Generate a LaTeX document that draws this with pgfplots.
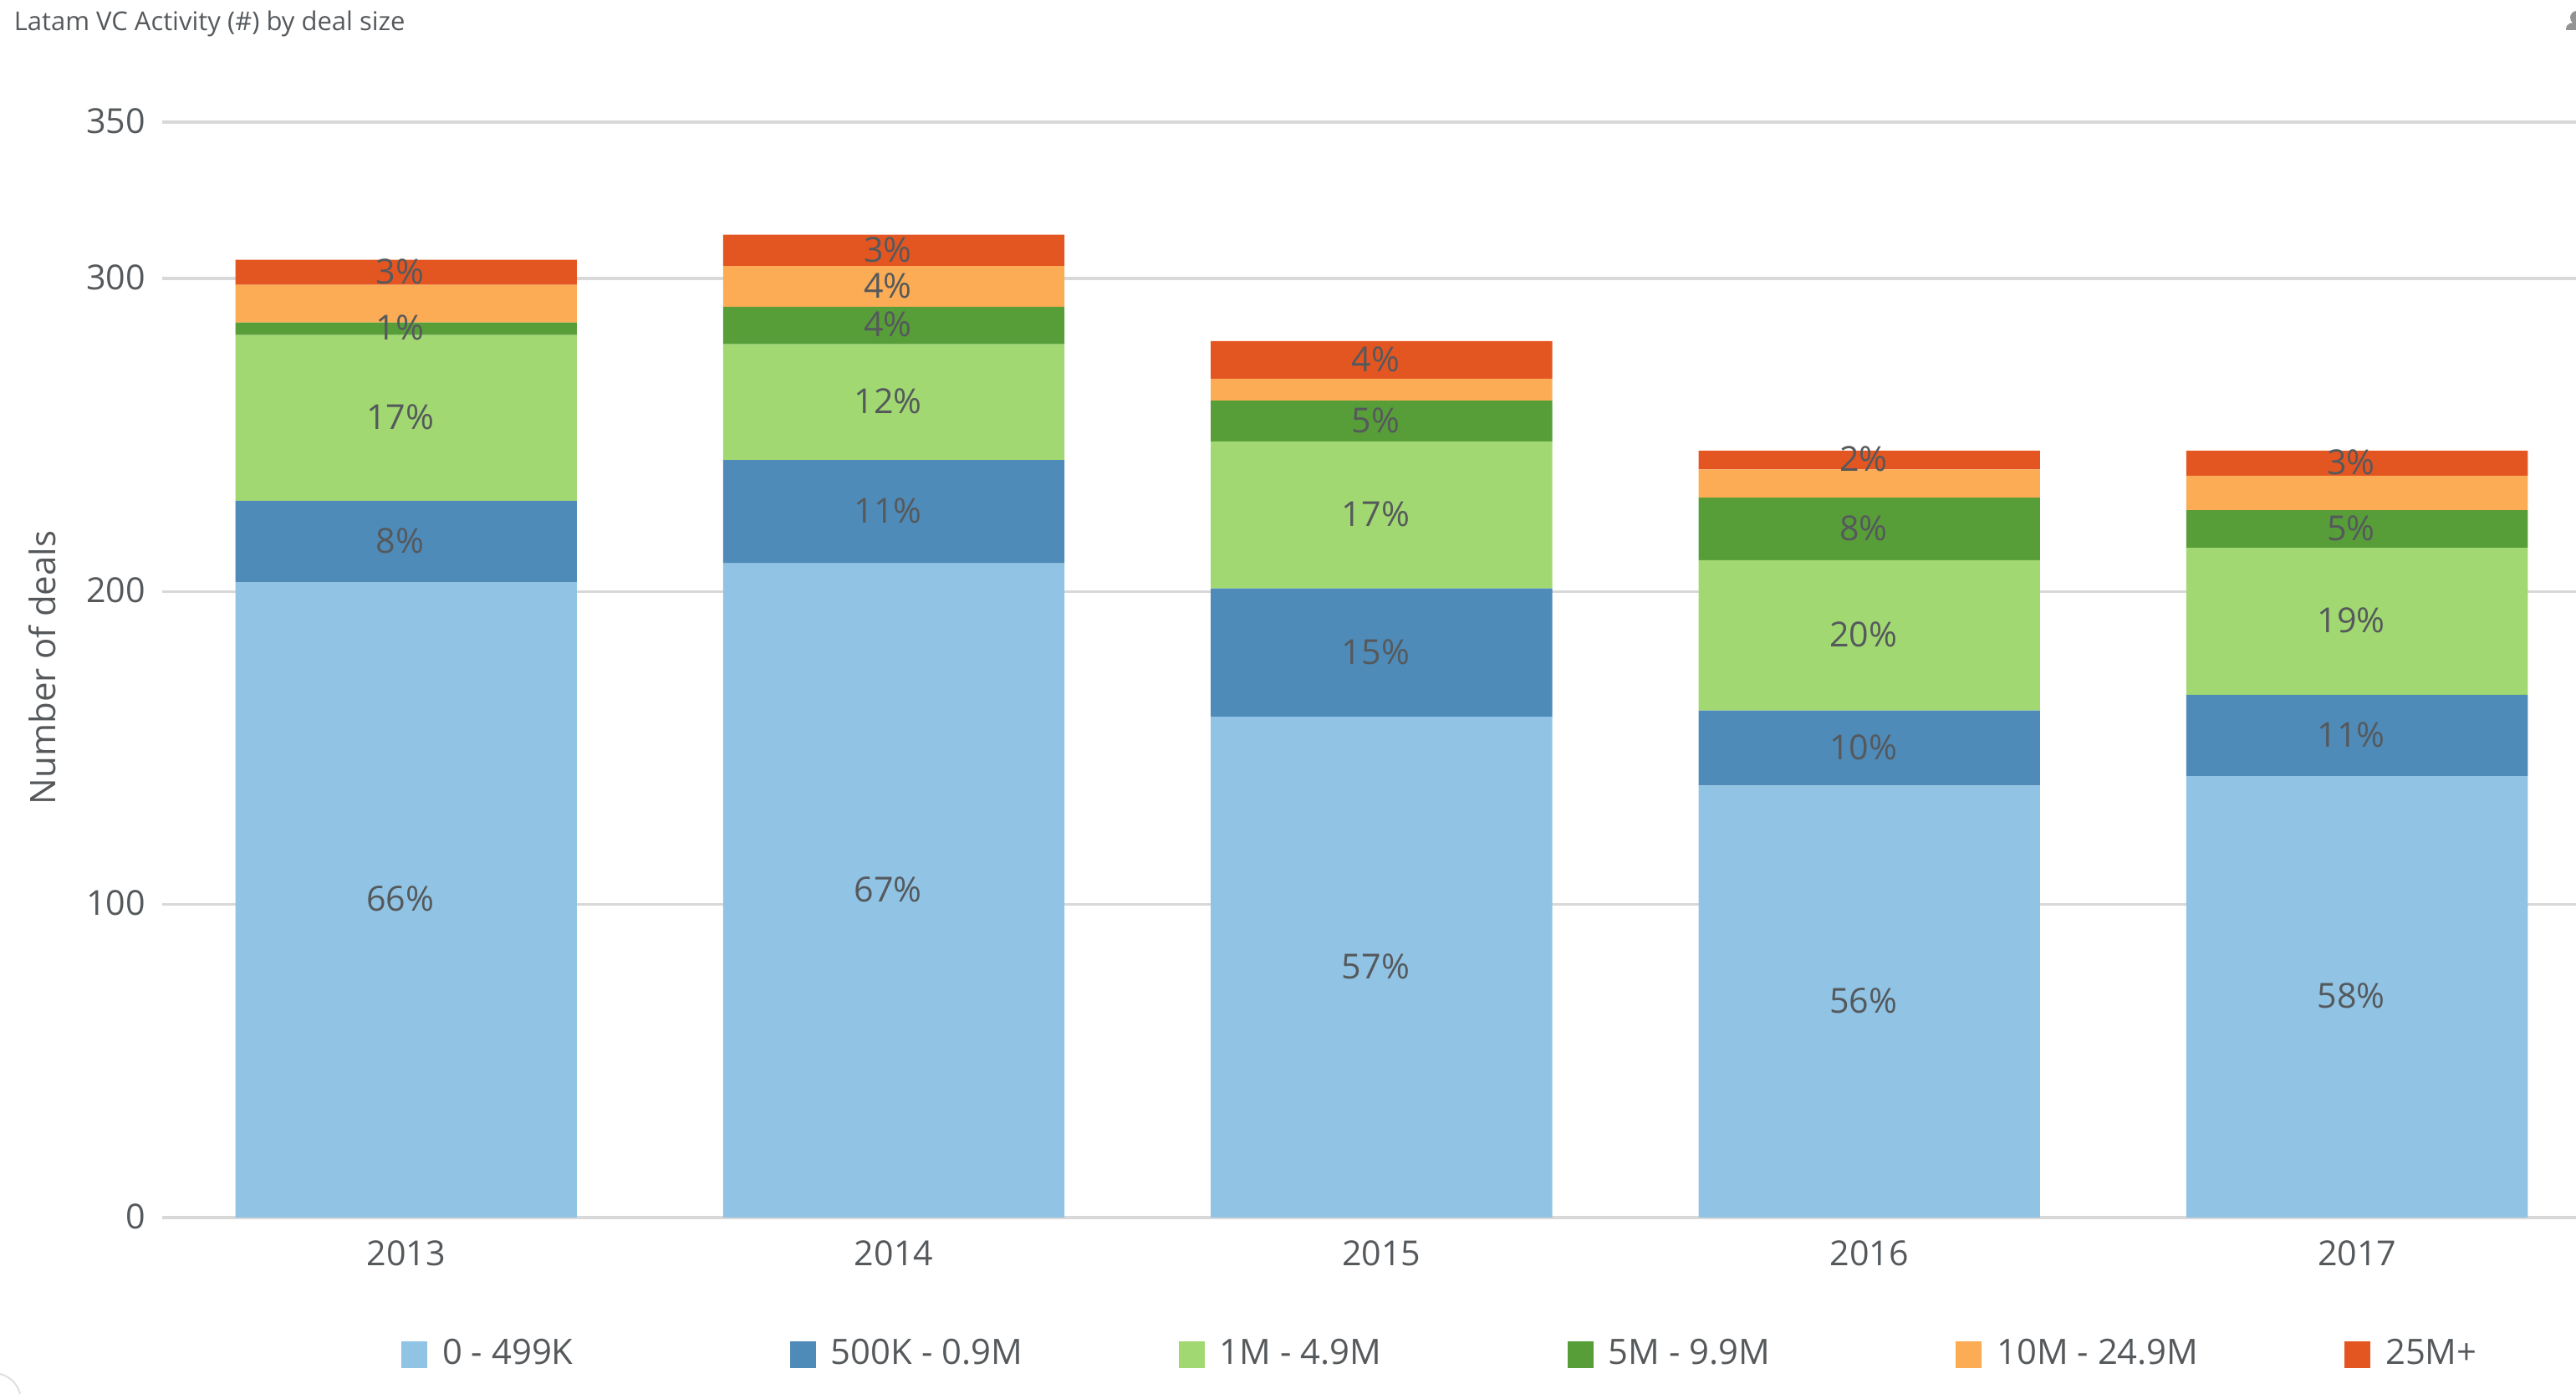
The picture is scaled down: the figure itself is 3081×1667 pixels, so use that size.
\documentclass[border=0pt]{standalone}
\usepackage{fontspec}
\setmainfont{Open Sans}
\usepackage{pgfplots}
\usepackage{pgfplotstable}
\pgfplotsset{compat=1.18}

\definecolor{txt}{HTML}{55595C}
\definecolor{gridc}{HTML}{D8D8D8}
\definecolor{c1}{HTML}{90C3E4}
\definecolor{c2}{HTML}{4E8BB9}
\definecolor{c3}{HTML}{A1D871}
\definecolor{c4}{HTML}{579E38}
\definecolor{c5}{HTML}{FBAC55}
\definecolor{c6}{HTML}{E45621}

% deals per year and deal size
\pgfplotstableread{
x  a   b  c  d  e  f
0  203 26 53 4  12 8
1  209 33 37 12 13 10
2  160 41 47 13 7  12
3  138 24 48 20 9  6
4  141 26 47 12 11 8
}\deals

% share labels, y is the middle of the segment
\pgfplotstableread{
x y     p
0 101.5 66
0 216   8
0 255.5 17
0 284   1
0 302   3
1 104.5 67
1 225.5 11
1 260.5 12
1 285   4
1 297.5 4
1 309   3
2 80    57
2 180.5 15
2 224.5 17
2 254.5 5
2 274   4
3 69    56
3 150   10
3 186   20
3 220   8
3 242   2
4 70.5  58
4 154   11
4 190.5 19
4 220   5
4 241   3
}\shares

\pgfplotsset{
  chartbox/.style={
    scale only axis,
    width=721.75pt, height=327.5pt,
    xmin=-0.5, xmax=4.449,
    ymin=0, ymax=350,
  },
  swatch/.style={
    fill=#1, draw=none,
    legend image code/.code={\fill[#1] (0pt,-4pt) rectangle (7.75pt,4pt);},
  },
}
\newcommand{\lab}[1]{\hspace{2.5pt}\makebox[101.95pt][l]{#1}}

\begin{document}
\begin{tikzpicture}[x=0.25pt,y=0.25pt]
\path[use as bounding box] (0,0) rectangle (3081,1667);

\begin{axis}[
    chartbox,
    at={(48.5pt,52.75pt)}, anchor=south west,
    clip=false,
    ybar stacked,
    bar width=0.7,
    axis line style={draw=none},
    major tick length=0pt,
    ymajorgrids=true,
    grid style={gridc,line width=0.85pt},
    xtick=data,
    xticklabels={2013,2014,2015,2016,2017},
    ytick={0,100,200,300,350},
    /pgf/number format/assume math mode=true,
    tick label style={font=\fontsize{10.3}{12}\selectfont,text=txt},
    xticklabel style={yshift=-3.5pt},
    yticklabel style={xshift=-1.5pt,yshift=0.4pt},
    ylabel={Number of deals},
    ylabel style={at={(axis description cs:-0.0495,0.502)},anchor=center,
      font=\fontsize{10.5}{12}\selectfont,text=txt},
    legend columns=6,
    legend style={
      at={(0.0991,-0.125)}, anchor=west,
      draw=none, fill=none, inner sep=0pt, outer sep=0pt,
      font=\fontsize{10.45}{12}\selectfont, text=txt,
      /tikz/every even column/.append style={column sep=0pt},
    },
    legend cell align=left,
]
  \addplot[swatch=c1] table[x=x,y=a] {\deals};
  \addplot[swatch=c2] table[x=x,y=b] {\deals};
  \addplot[swatch=c3] table[x=x,y=c] {\deals};
  \addplot[swatch=c4] table[x=x,y=d] {\deals};
  \addplot[swatch=c5] table[x=x,y=e] {\deals};
  \addplot[swatch=c6] table[x=x,y=f] {\deals};
  \addlegendentry{\lab{0 - 499K}}
  \addlegendentry{\lab{500K - 0.9M}}
  \addlegendentry{\lab{1M - 4.9M}}
  \addlegendentry{\lab{5M - 9.9M}}
  \addlegendentry{\lab{10M - 24.9M}}
  \addlegendentry{\lab{25M+}}
\end{axis}

\begin{axis}[
    chartbox,
    at={(48.5pt,52.75pt)}, anchor=south west,
    hide axis,
    clip=false,
]
  \addplot[draw=none, mark=none,
    point meta=explicit symbolic,
    nodes near coords={\pgfplotspointmeta\%},
    every node near coord/.style={anchor=center,xshift=-1.75pt,yshift=0.25pt,inner sep=0pt,
      font=\fontsize{10.3}{12}\selectfont,text=txt},
  ] table[x=x,y=y,meta=p] {\shares};
\end{axis}

\node[anchor=west,inner sep=0pt,text=txt,font=\fontsize{7.75}{9}\selectfont]
  at (16,1639) {Latam VC Activity (\#) by deal size};

% page furniture cut by the picture edge
\begin{scope}
  \clip (0,0) rectangle (3081,1667);
  \fill[gray!85] (3082,1646) circle (8);
  \fill[gray!85] (3069,1631) .. controls (3069,1640) and (3075,1640) .. (3085,1640) -- (3085,1631) -- cycle;
  \draw[gray!25,line width=0.5pt] (-8,-8) circle (33);
\end{scope}
\end{tikzpicture}
\end{document}
